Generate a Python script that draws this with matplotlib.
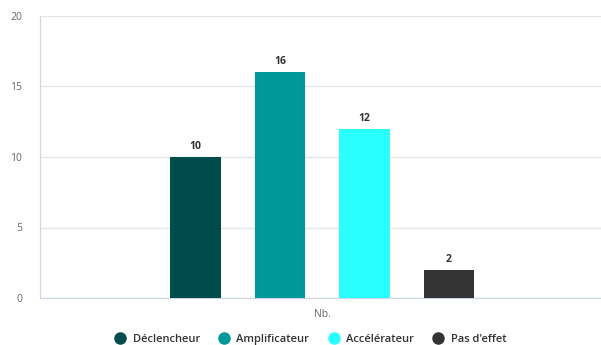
import matplotlib
matplotlib.use('Agg')
from matplotlib import pyplot as plt
from matplotlib.lines import Line2D

plt.rcParams['font.family'] = ['Open Sans', 'DejaVu Sans']

series = ['Déclencheur', 'Amplificateur', 'Accélérateur', "Pas d'effet"]
values = [10, 16, 12, 2]
colors = ['#004c4c', '#009999', '#29ffff', '#333333']
category = 'Nb.'

fig = plt.figure(figsize=(6.01, 3.45), dpi=100)
ax = fig.add_axes([40 / 601, 1 - 298 / 345, 561 / 601, (298 - 16) / 345])

offsets = [-1.5, -0.5, 0.5, 1.5]
for off, v, c, name in zip(offsets, values, colors, series):
    ax.bar(off, v, width=0.6, color=c, label=name, zorder=3)
    ax.text(off, v + 0.35, str(v), ha='center', va='bottom',
            fontsize=7.5, fontweight='bold', color='#333333')

ax.set_xlim(-3.34, 3.30)
ax.set_ylim(0, 20)
ax.set_yticks([0, 5, 10, 15, 20])
ax.set_xticks([0])
ax.set_xticklabels([category])
ax.grid(axis='y', color='#e6e6e6', linewidth=1, zorder=0)
for s in ['top', 'right']:
    ax.spines[s].set_visible(False)
for s in ['left', 'bottom']:
    ax.spines[s].set_color('#ccd6eb')
ax.tick_params(axis='both', length=0, labelsize=7.5, colors='#666666')
ax.tick_params(axis='y', pad=13)
ax.tick_params(axis='x', pad=8)

handles = [Line2D([], [], marker='o', linestyle='', markersize=8,
                  markerfacecolor=c, markeredgecolor=c) for c in colors]
fig.legend(handles, series, loc='lower center', bbox_to_anchor=(0.512, -0.03),
           ncol=4, frameon=False, prop={'size': 8, 'weight': 'semibold'},
           handletextpad=0.1, columnspacing=1.2, labelcolor='#333333')

fig.savefig('out.png', dpi=100)
